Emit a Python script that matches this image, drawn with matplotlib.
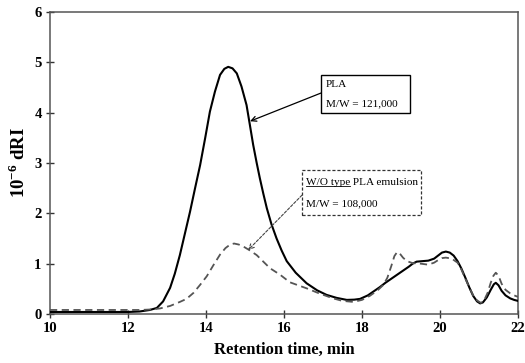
import matplotlib
matplotlib.use("Agg")
import matplotlib.pyplot as plt
from matplotlib.patches import Rectangle
from matplotlib.lines import Line2D

plt.rcParams["font.family"] = ["Liberation Serif", "DejaVu Serif"]
plt.rcParams["mathtext.fontset"] = "custom"
plt.rcParams["mathtext.rm"] = "Liberation Serif"
plt.rcParams["mathtext.bf"] = "Liberation Serif:bold"

# PLA (solid)
pla_t = [10.0, 11.0, 12.0, 12.3, 12.56, 12.74, 12.9, 13.08, 13.2, 13.33, 13.46,
         13.59, 13.72, 13.85, 13.98, 14.10, 14.23, 14.36, 14.47, 14.57, 14.68,
         14.79, 14.91, 15.04, 15.12, 15.21, 15.3, 15.38, 15.47, 15.56, 15.68,
         15.81, 15.94, 16.07, 16.3, 16.58, 16.85, 17.09, 17.35, 17.61, 17.8,
         17.95, 18.15, 18.3, 18.45, 18.6, 18.75, 18.9, 19.05, 19.2, 19.3, 19.4,
         19.55, 19.7, 19.85, 19.95, 20.05, 20.15, 20.25, 20.35, 20.45, 20.55,
         20.65, 20.75, 20.85, 20.95, 21.03, 21.1, 21.2, 21.3, 21.38, 21.43,
         21.5, 21.58, 21.68, 21.8, 21.9, 22.0]
pla_y = [0.04, 0.04, 0.04, 0.05, 0.08, 0.12, 0.25, 0.52, 0.8, 1.17, 1.6,
         2.03, 2.5, 2.96, 3.5, 4.02, 4.42, 4.75, 4.87, 4.91, 4.88,
         4.78, 4.52, 4.15, 3.78, 3.36, 3.0, 2.70, 2.39, 2.10, 1.78,
         1.50, 1.26, 1.05, 0.82, 0.61, 0.47, 0.38, 0.32, 0.28, 0.285,
         0.30, 0.37, 0.45, 0.53, 0.62, 0.70, 0.78, 0.86, 0.94, 1.0, 1.04,
         1.05, 1.06, 1.10, 1.16, 1.22, 1.24, 1.22, 1.16, 1.05, 0.90,
         0.72, 0.53, 0.36, 0.25, 0.21, 0.23, 0.33, 0.48, 0.59, 0.62,
         0.57, 0.46, 0.37, 0.31, 0.28, 0.26]

# W/O type PLA emulsion (dashed)
emu_t = [10.0, 11.0, 12.0, 12.31, 12.6, 12.82, 13.08, 13.33, 13.5, 13.68, 13.85,
         14.02, 14.19, 14.36, 14.5, 14.62, 14.72, 14.84, 14.96, 15.13, 15.30,
         15.47, 15.64, 15.90, 16.15, 16.4, 16.58, 16.9, 17.26, 17.5, 17.78,
         18.0, 18.2, 18.4, 18.55, 18.65, 18.75, 18.83, 18.9, 18.97, 19.05,
         19.15, 19.3, 19.5, 19.7, 19.85, 19.95, 20.05, 20.15, 20.3, 20.45,
         20.55, 20.65, 20.75, 20.85, 20.95, 21.05, 21.13, 21.22, 21.3, 21.37,
         21.43, 21.5, 21.58, 21.68, 21.8, 21.9, 22.0]
emu_y = [0.08, 0.08, 0.08, 0.08, 0.09, 0.11, 0.16, 0.24, 0.30, 0.42, 0.58,
         0.75, 0.97, 1.18, 1.31, 1.38, 1.40, 1.38, 1.34, 1.26, 1.17,
         1.04, 0.91, 0.78, 0.63, 0.56, 0.51, 0.41, 0.31, 0.26, 0.24,
         0.28, 0.36, 0.47, 0.58, 0.72, 0.95, 1.15, 1.23, 1.20, 1.12,
         1.05, 1.01, 1.00, 0.98, 1.02, 1.07, 1.11, 1.12, 1.10, 1.02,
         0.88, 0.70, 0.53, 0.37, 0.27, 0.22, 0.27, 0.42, 0.62, 0.76,
         0.82, 0.76, 0.60, 0.48, 0.41, 0.37, 0.34]

x_ticks = [10, 12, 14, 16, 18, 20, 22]
y_ticks = [0, 1, 2, 3, 4, 5, 6]

fig = plt.figure(figsize=(5.25, 3.63), dpi=100)
ax = fig.add_axes([0.0952, 0.135, 0.8915, 0.832])

ax.plot(pla_t, pla_y, color="black", lw=1.5, zorder=3, solid_joinstyle="round")
ax.plot(emu_t, emu_y, color="#555555", lw=1.3, ls=(0, (4, 2.5)), zorder=3)

ax.set_xlim(10, 22)
ax.set_ylim(0, 6)
ax.set_xticks(x_ticks)
ax.set_yticks(y_ticks)
for lab in ax.get_xticklabels() + ax.get_yticklabels():
    lab.set_fontweight("bold")
    lab.set_fontsize(10.5)
ax.tick_params(direction="inout", length=6, width=1, color="#333333", pad=3)
for s in ax.spines.values():
    s.set_color("#555555")
    s.set_linewidth(1.1)

ax.set_xlabel("Retention time, min", fontsize=12, fontweight="bold", labelpad=5)
ax.set_ylabel(r"10$^{\mathbf{-6}}$ dRI", fontsize=13.5, fontweight="bold", labelpad=4)

FS = 8.1

# PLA label box
ax.add_patch(Rectangle((16.95, 3.99), 2.28, 0.76, fill=False, ec="black", lw=1.0, zorder=4))
ax.text(17.08, 4.56, "PLA", fontsize=FS, va="center", ha="left")
ax.text(17.08, 4.17, "M/W = 121,000", fontsize=FS, va="center", ha="left")
ax.annotate("", xy=(15.13, 3.83), xytext=(16.95, 4.39),
            arrowprops=dict(arrowstyle="->", color="black", lw=0.9,
                            shrinkA=0, shrinkB=0, mutation_scale=9))

# emulsion label box
ax.add_patch(Rectangle((16.46, 1.97), 3.05, 0.89, fill=False, ec="#333333", lw=0.9,
                       ls=(0, (2.5, 1.5)), zorder=4))
t1 = ax.text(16.57, 2.61, "W/O type", fontsize=FS, va="center", ha="left")
ax.text(16.57, 2.19, "M/W = 108,000", fontsize=FS, va="center", ha="left")
ax.annotate("", xy=(15.08, 1.27), xytext=(16.46, 2.36),
            arrowprops=dict(arrowstyle="->", color="#444444", lw=0.8, ls=(0, (2.5, 1.5)),
                            shrinkA=0, shrinkB=0, mutation_scale=9))

fig.canvas.draw()
bb = t1.get_window_extent()
inv = ax.transData.inverted()
x0, _ = inv.transform((bb.x0, bb.y0))
x1, yb = inv.transform((bb.x1, bb.y0 + 1))
ax.add_line(Line2D([x0, x1], [yb, yb], color="black", lw=0.6))
ax.text(x1, 2.61, " PLA emulsion", fontsize=FS, va="center", ha="left")

fig.savefig("out.png", dpi=100)
